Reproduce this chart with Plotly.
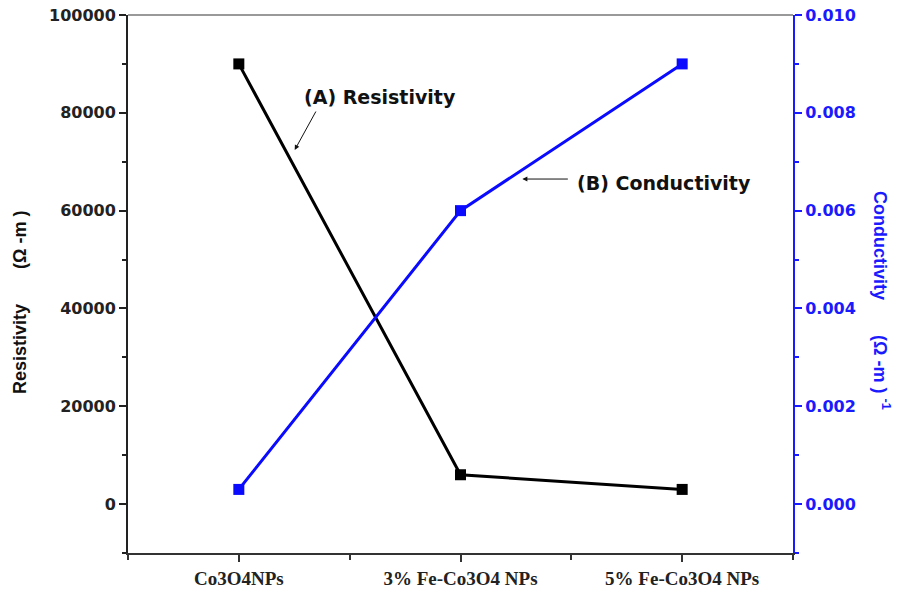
import plotly.graph_objects as go

categories = ["Co3O4NPs", "3% Fe-Co3O4 NPs", "5% Fe-Co3O4 NPs"]
resistivity = [90000, 6000, 3000]
conductivity = [0.0003, 0.006, 0.009]
y1_ticks = [0, 20000, 40000, 60000, 80000, 100000]
y2_ticks = [0.000, 0.002, 0.004, 0.006, 0.008, 0.010]
xpos = list(range(len(categories)))

BLUE = "#0a0aff"
fig = go.Figure()
fig.add_trace(go.Scatter(x=xpos, y=resistivity, mode="lines+markers",
                         line=dict(color="black", width=3),
                         marker=dict(symbol="square", size=11, color="black"),
                         showlegend=False))
fig.add_trace(go.Scatter(x=xpos, y=conductivity, mode="lines+markers", yaxis="y2",
                         line=dict(color=BLUE, width=3),
                         marker=dict(symbol="square", size=11, color=BLUE),
                         showlegend=False))

fig.update_layout(
    width=908, height=596,
    margin=dict(l=128, r=115, t=15, b=43),
    plot_bgcolor="white", paper_bgcolor="white",
    xaxis=dict(range=[-0.5, 2.5], tickvals=xpos, ticktext=["<b>%s</b>" % c for c in categories],
               automargin=False, ticklabeloverflow="allow",
               showgrid=False, zeroline=False, showline=True, linecolor="#333", linewidth=2,
               ticks="outside", ticklen=7, tickwidth=2, tickcolor="#333",
               minor=dict(dtick=0.5, tick0=0, ticks="outside", ticklen=5, tickwidth=2, tickcolor="#333"),
               tickfont=dict(family="Liberation Serif, Times New Roman", size=19, color="#222")),
    yaxis=dict(range=[-10000, 100000], tickvals=y1_ticks,
               ticktext=["<b>%d</b>" % v for v in y1_ticks],
               automargin=False, ticklabeloverflow="allow",
               showgrid=False, zeroline=False, showline=True, linecolor="#222", linewidth=2,
               ticks="outside", ticklen=7, tickwidth=1.5, tickcolor="#222",
               minor=dict(dtick=10000, tick0=0, ticks="outside", ticklen=4, tickwidth=1.5, tickcolor="#222"),
               tickfont=dict(family="DejaVu Sans", size=16, color="#222")),
    yaxis2=dict(range=[-0.001, 0.010], overlaying="y", side="right",
                tickvals=y2_ticks,
                ticktext=["<b>%.3f</b>" % v for v in y2_ticks],
                automargin=False, ticklabeloverflow="allow",
                showgrid=False, zeroline=False, showline=True, linecolor="#1a1aff", linewidth=2,
                ticks="outside", ticklen=7, tickwidth=1.5, tickcolor="#1a1aff",
                minor=dict(dtick=0.001, tick0=0, ticks="outside", ticklen=4, tickwidth=1.5, tickcolor="#1a1aff"),
                tickfont=dict(family="DejaVu Sans", size=16, color="#1a1aff")),
    shapes=[dict(type="line", xref="paper", yref="paper", x0=0, x1=1, y0=1, y1=1, layer="above",
                 line=dict(color="#777", width=1.5))],
)

sp = "&nbsp;" * 7
fig.add_annotation(x=20, y=302, xref="paper", yref="paper", text="<b>Resistivity" + sp + "(Ω -m )</b>",
                   textangle=-90, showarrow=False, xanchor="center", yanchor="middle",
                   font=dict(family="Liberation Sans, Arial", size=18, color="#111"))
fig.add_annotation(x=882, y=300, xref="paper", yref="paper",
                   text="<b>Conductivity" + sp + "(Ω -m ) <sup>-1</sup></b>",
                   textangle=90, showarrow=False, xanchor="center", yanchor="middle",
                   font=dict(family="Liberation Sans, Arial", size=18, color="#1a1aff"))
# convert pixel positions of titles to paper coords (plot area 128..793 x 15..553)
for a in fig.layout.annotations:
    a.x = (a.x - 128) / 665
    a.y = (553 - a.y) / 538

af = dict(family="DejaVu Sans", size=19, color="#111")
fig.add_annotation(x=0.635, y=83231, xref="x", yref="y", text="<b>(A) Resistivity</b>",
                   showarrow=False, font=af)
fig.add_annotation(x=0.252, y=72393, xref="x", yref="y", text="", showarrow=True,
                   ax=22, ay=-40, arrowhead=2, arrowsize=1, arrowwidth=1, arrowcolor="#111")
fig.add_annotation(x=1.919, y=65644, xref="x", yref="y", text="<b>(B) Conductivity</b>",
                   showarrow=False, font=af)
fig.add_annotation(x=1.279, y=0.006646, xref="x", yref="y2", text="", showarrow=True,
                   ax=47, ay=0, arrowhead=2, arrowsize=1, arrowwidth=1, arrowcolor="#111")

fig.write_html("out.html", config={"displayModeBar": False},
               post_script="document.body.style.margin='0px';document.body.style.padding='0px';"
                           "document.body.style.overflow='hidden';")
